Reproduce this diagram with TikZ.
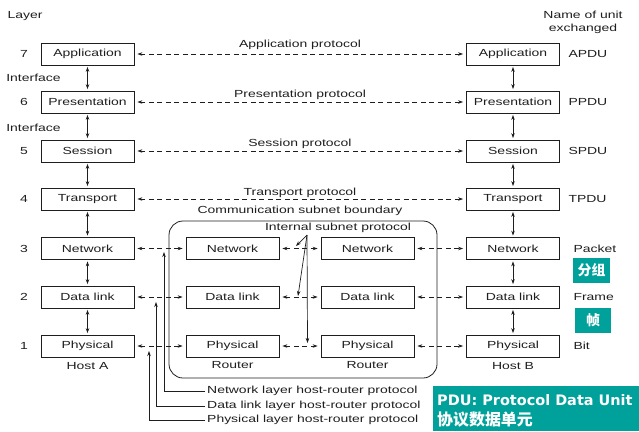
\documentclass[tikz,border=0pt]{standalone}
\usepackage{fontspec}
\setmainfont{Liberation Sans}[FakeStretch=1.36]
\newfontfamily\pdufont{DejaVu Sans}
\newfontfamily\cjk{Noto Sans CJK SC}
\usetikzlibrary{arrows.meta}

\definecolor{pdugreen}{RGB}{0,161,155}
\definecolor{ink}{RGB}{30,30,30}

\tikzset{
  layer/.style={draw=ink, line width=0.8bp, minimum width=93bp,
    minimum height=22bp, inner sep=0pt},
  peer/.style={draw=ink, line width=0.7bp, dash pattern=on 5bp off 3.5bp,
    <->, shorten <=3bp, shorten >=3bp},
  updown/.style={draw=ink, line width=0.7bp, <->,
    shorten <=1.5bp, shorten >=1.5bp},
  tag/.style={fill=pdugreen, text=white, inner sep=0pt,
    font=\cjk\bfseries\fontsize{14}{16}\selectfont}
}

\begin{document}
\begin{tikzpicture}[x=1bp, y=-1bp, text=ink,
  font=\fontsize{10.3}{13}\selectfont,
  >={Stealth[length=5bp,width=3.5bp]}]
  \useasboundingbox (0,0) rectangle (639,431);

  \node at (25,16) {Layer};
  \node[align=center] at (583,22) {Name of unit\\exchanged};

  \node (a7) [layer] at (87.5,54) {Application};
  \node (a6) [layer] at (87.5,102) {Presentation};
  \node (a5) [layer] at (87.5,151) {Session};
  \node (a4) [layer] at (87.5,199) {Transport};
  \node (a3) [layer] at (87.5,248.5) {Network};
  \node (a2) [layer] at (87.5,297) {Data link};
  \node (a1) [layer] at (87.5,346) {Physical};
  \node at (87.5,366) {Host A};

  \node (b7) [layer] at (513,54) {Application};
  \node (b6) [layer] at (513,102) {Presentation};
  \node (b5) [layer] at (513,151) {Session};
  \node (b4) [layer] at (513,199) {Transport};
  \node (b3) [layer] at (513,248.5) {Network};
  \node (b2) [layer] at (513,297) {Data link};
  \node (b1) [layer] at (513,346) {Physical};
  \node at (513,366) {Host B};

  \node at (24,54) {7};
  \node at (24,102) {6};
  \node at (24,151) {5};
  \node at (24,199) {4};
  \node at (24,248.5) {3};
  \node at (24,297) {2};
  \node at (24,346) {1};
  \node at (33.5,78) {Interface};
  \node at (33.5,128) {Interface};

  \node[anchor=west] at (565,54) {APDU};
  \node[anchor=west] at (565,102) {PPDU};
  \node[anchor=west] at (565,151) {SPDU};
  \node[anchor=west] at (565,199) {TPDU};
  \node[anchor=west] at (570,248.5) {Packet};
  \node[anchor=west] at (570,297) {Frame};
  \node[anchor=west] at (570,346) {Bit};

  \draw[updown] (a7) -- (a6);
  \draw[updown] (a6) -- (a5);
  \draw[updown] (a5) -- (a4);
  \draw[updown] (a4) -- (a3);
  \draw[updown] (a3) -- (a2);
  \draw[updown] (a2) -- (a1);
  \draw[updown] (b7) -- (b6);
  \draw[updown] (b6) -- (b5);
  \draw[updown] (b5) -- (b4);
  \draw[updown] (b4) -- (b3);
  \draw[updown] (b3) -- (b2);
  \draw[updown] (b2) -- (b1);

  \draw[peer] (a7) -- (b7);
  \draw[peer] (a6) -- (b6);
  \draw[peer] (a5) -- (b5);
  \draw[peer] (a4) -- (b4);
  \node at (300,45) {Application protocol};
  \node at (300,95) {Presentation protocol};
  \node at (300,144) {Session protocol};
  \node at (300,192.5) {Transport protocol};

  \draw[draw=ink, line width=0.8bp, rounded corners=14bp]
    (169,221) rectangle (437,378);
  \node at (300,211) {Communication subnet boundary};

  \node (r3) [layer] at (232.5,248.5) {Network};
  \node (r2) [layer] at (232.5,297) {Data link};
  \node (r1) [layer] at (232.5,346) {Physical};
  \node at (232.5,365.5) {Router};
  \node (s3) [layer] at (367.5,248.5) {Network};
  \node (s2) [layer] at (367.5,297) {Data link};
  \node (s1) [layer] at (367.5,346) {Physical};
  \node at (367.5,365.5) {Router};

  \draw[peer] (a3) -- (r3);
  \draw[peer] (a2) -- (r2);
  \draw[peer] (a1) -- (r1);
  \draw[peer] (r3) -- (s3);
  \draw[peer] (r2) -- (s2);
  \draw[peer] (r1) -- (s1);
  \draw[peer] (s3) -- (b3);
  \draw[peer] (s2) -- (b2);
  \draw[peer] (s1) -- (b1);

  \node (isp) at (338,228) {Internal subnet protocol};
  \coordinate (ispfoot) at (307,235);
  \coordinate (isp3) at (296,246);
  \coordinate (isp2) at (298,296);
  \coordinate (isp1) at (307.5,343);
  \draw[draw=ink, line width=0.7bp, ->] (ispfoot) -- (isp3);
  \draw[draw=ink, line width=0.7bp, ->] (ispfoot) -- (isp2);
  \draw[draw=ink, line width=0.7bp, ->] (ispfoot) -- (isp1);

  \node (hr3) [anchor=west, inner sep=2bp] at (205,391)
    {Network layer host-router protocol};
  \node (hr2) [anchor=west, inner sep=2bp] at (205,406)
    {Data link layer host-router protocol};
  \node (hr1) [anchor=west, inner sep=2bp] at (205,420)
    {Physical layer host-router protocol};
  \coordinate (hr3up) at (164,252);
  \coordinate (hr2up) at (156,302);
  \coordinate (hr1up) at (149,351);
  \draw[draw=ink, line width=0.7bp, ->] (hr3.west) -| (hr3up);
  \draw[draw=ink, line width=0.7bp, ->] (hr2.west) -| (hr2up);
  \draw[draw=ink, line width=0.7bp, ->] (hr1.west) -| (hr1up);

  \node (packetcn) [tag, minimum width=37bp, minimum height=25bp]
    at (591.5,270.5) {分组};
  \node (framecn) [tag, minimum width=36bp, minimum height=25bp]
    at (593,320.5) {帧};

  \fill[pdugreen] (433,386) rectangle (639,431);
  \node[anchor=west, text=white, inner sep=0pt,
    font=\pdufont\bfseries\fontsize{14.5}{16}\selectfont]
    at (437,400) {PDU: Protocol Data Unit};
  \node[anchor=west, text=white, inner sep=0pt,
    font=\cjk\bfseries\fontsize{16}{18}\selectfont]
    at (437,419.5) {协议数据单元};
\end{tikzpicture}
\end{document}
